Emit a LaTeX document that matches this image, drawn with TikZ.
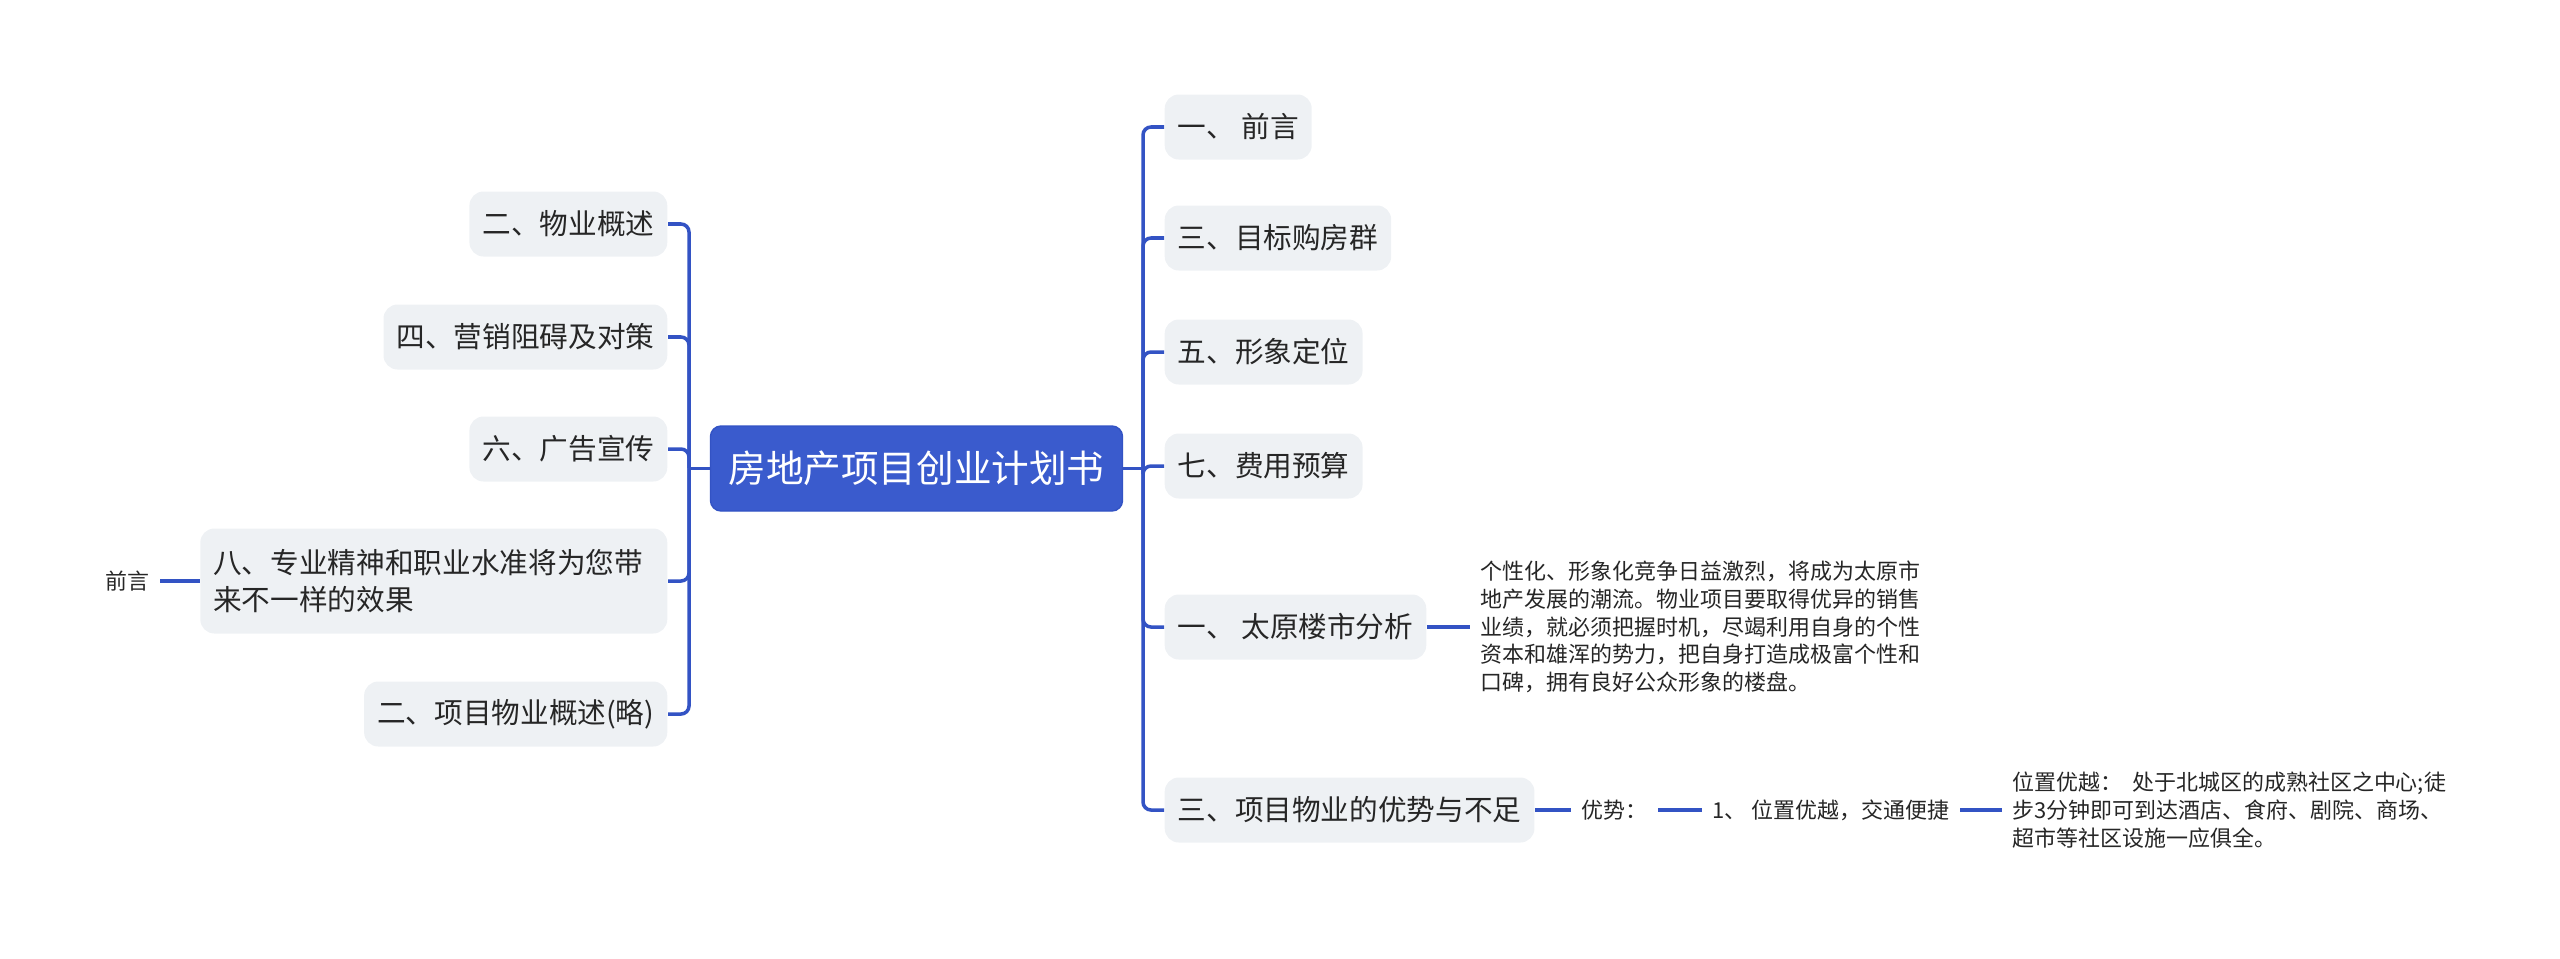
\documentclass[tikz,border=0pt]{standalone}
\usepackage{fontspec}
\setmainfont{Noto Sans CJK SC}
\usetikzlibrary{positioning}
\usepackage{xcolor}
\definecolor{cBlue}{HTML}{3A5BCD}
\definecolor{cLine}{HTML}{3353C4}
\definecolor{cBox}{HTML}{EEF1F4}
\definecolor{cText}{HTML}{262626}

\begin{document}
\begin{tikzpicture}[
  topic/.style={rectangle, rounded corners=4pt, fill=cBox, text=cText,
                minimum height=0.65cm, inner xsep=0.13cm, inner ysep=0pt,
                font=\fontsize{8.15}{10.7}\selectfont},
  central/.style={rectangle, rounded corners=3pt, fill=cBlue, draw=cLine,
                text=white, minimum height=0.85cm, inner xsep=0.18cm,
                font=\fontsize{10.7}{13}\selectfont},
  note/.style={inner xsep=0.1cm, inner ysep=0pt, text=cText, align=left,
                font=\fontsize{6.25}{7.9}\selectfont},
  link/.style={draw=cLine, line width=1pt, rounded corners=0.08cm},
]
\useasboundingbox (0,0) rectangle (25.6,-9.58);

% ---- Root ----
\node[central] (root) at (9.165,-4.685) {房地产项目创业计划书};
\coordinate (rt) at (11.43,-4.685);
\coordinate (lt) at (6.89,-4.685);

% ---- Right branch ----
\node[topic, anchor=west] (r1) at (11.64,-1.27) {一、 前言};
\node[topic, anchor=west] (r3) at (11.64,-2.38) {三、目标购房群};
\node[topic, anchor=west] (r5) at (11.64,-3.52) {五、形象定位};
\node[topic, anchor=west] (r7) at (11.64,-4.66) {七、费用预算};
\node[topic, anchor=west] (ra) at (11.64,-6.27) {一、 太原楼市分析};
\node[topic, anchor=west] (rb) at (11.64,-8.10) {三、项目物业的优势与不足};
\draw[link] (root.east) -- (rt);
\draw[link] (rt) |- (r1.west);
\draw[link] (rt) |- (r3.west);
\draw[link] (rt) |- (r5.west);
\draw[link] (rt) |- (r7.west);
\draw[link] (rt) |- (ra.west);
\draw[link] (rt) |- (rb.west);

% ---- Details on the right ----
\node[note, anchor=west] (tyfx) at (14.70,-6.27)
  {个性化、形象化竞争日益激烈，将成为太原市\\地产发展的潮流。物业项目要取得优异的销售\\业绩，就必须把握时机，尽竭利用自身的个性\\资本和雄浑的势力，把自身打造成极富个性和\\口碑，拥有良好公众形象的楼盘。};
\draw[link] (ra.east) -- (tyfx.west);
\node[note, anchor=west] (ys) at (15.71,-8.10) {优势：};
\node[note, anchor=west] (wz) at (17.02,-8.10) {1、 位置优越，交通便捷};
\node[note, anchor=west] (wzd) at (20.02,-8.10)
  {位置优越：\ \ 处于北城区的成熟社区之中心;徒\\步3分钟即可到达酒店、食府、剧院、商场、\\超市等社区设施一应俱全。};
\draw[link] (rb.east) -- (ys.west);
\draw[link] (ys.east) -- (wz.west);
\draw[link] (wz.east) -- (wzd.west);

% ---- Left branch ----
\node[topic, anchor=east] (l2) at (6.68,-2.24) {二、物业概述};
\node[topic, anchor=east] (l4) at (6.68,-3.37) {四、营销阻碍及对策};
\node[topic, anchor=east] (l6) at (6.68,-4.49) {六、广告宣传};
\node[topic, anchor=east, text width=4.41cm, align=left, minimum height=1.05cm]
  (l8) at (6.68,-5.81) {八、专业精神和职业水准将为您带\\来不一样的效果};
\node[topic, anchor=east] (l2b) at (6.68,-7.14) {二、项目物业概述(略)};
\draw[link] (root.west) -- (lt);
\draw[link] (lt) |- (l2.east);
\draw[link] (lt) |- (l4.east);
\draw[link] (lt) |- (l6.east);
\draw[link] (lt) |- (l8.east);
\draw[link] (lt) |- (l2b.east);

\node[note, anchor=east] (qy) at (1.60,-5.81) {前言};
\draw[link] (qy.east) -- (l8.west);

\end{tikzpicture}
\end{document}
